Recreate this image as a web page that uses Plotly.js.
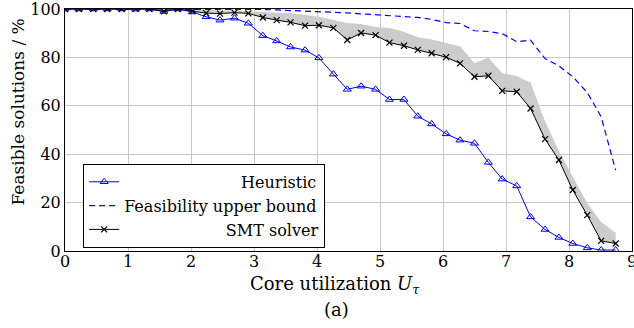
<!DOCTYPE html>
<html>
<head>
<meta charset="utf-8">
<script src="https://cdn.plot.ly/plotly-3.0.1.min.js"></script>
<style>
html,body{margin:0;padding:0;background:#fff;}
#chart{width:634px;height:328px;}
</style>
</head>
<body>
<div id="chart"></div>
<script>
const utilization = [0, 0.22, 0.45, 0.67, 0.9, 1.12, 1.34, 1.57, 1.79, 2.02, 2.24, 2.46, 2.69, 2.91, 3.14, 3.36, 3.58, 3.81, 4.03, 4.26, 4.48, 4.7, 4.93, 5.15, 5.38, 5.6, 5.82, 6.05, 6.27, 6.5, 6.72, 6.94, 7.17, 7.39, 7.62, 7.84, 8.06, 8.29, 8.51, 8.74];
const heuristic = [100, 100, 100, 100, 100, 100, 100, 99, 100, 98.8, 96.8, 95.4, 96.2, 94.1, 89, 86.8, 84.3, 83, 79.8, 73.1, 66.8, 68.1, 66.8, 62.6, 62.6, 55.7, 52.5, 48.4, 45.8, 44.5, 36.6, 29.7, 26.9, 14.1, 8.9, 5.6, 3.1, 1.3, 0.4, 0.4];
const upperBound = [100, 100, 100, 100, 100, 100, 100, 100, 100, 100, 100, 100, 100, 100, 99.8, 99.6, 99.4, 99.2, 99, 98.8, 98.4, 98, 97.6, 97.3, 97.1, 96.5, 95.7, 94.4, 94.0, 91.0, 90.7, 89.8, 86.5, 87.1, 79.5, 76.5, 72, 65.5, 55.5, 33.4];
const smt = [100, 100, 100, 100, 100, 100, 100, 99, 100, 99.1, 98.3, 98.1, 98.5, 98.2, 96.5, 95.4, 94.5, 93.1, 93.3, 92.2, 87.2, 90.1, 89.2, 86.1, 84.8, 83.1, 81.7, 80.1, 77.5, 72.0, 72.4, 66.2, 65.8, 58.9, 46.2, 37.6, 25.2, 14.8, 4.2, 3.1];
const smtBand = [100, 100, 100, 100, 100, 100, 100, 99.5, 100, 100, 99.6, 99.4, 99.3, 99.1, 98.8, 98.5, 98.2, 97.5, 96.8, 95.5, 94.2, 93.8, 92.6, 92.2, 90.6, 88.3, 87.4, 86.0, 84.6, 77.6, 80.0, 73.5, 72.3, 69.5, 53.6, 41.2, 30.5, 19.7, 12.0, 7.5];
const xTicks = [0, 1, 2, 3, 4, 5, 6, 7, 8, 9];
const yTicks = [0, 20, 40, 60, 80, 100];
const names = ['Heuristic', 'Feasibility upper bound', 'SMT solver'];

const pad = n => '\u00A0'.repeat(n);
const serif = 'DejaVu Serif';

const traces = [
  {x: utilization, y: smt, mode: 'lines', line: {width: 0, color: 'rgba(0,0,0,0)'}, showlegend: false, hoverinfo: 'skip'},
  {x: utilization, y: smtBand, mode: 'lines', line: {width: 0, color: 'rgba(0,0,0,0)'}, fill: 'tonexty', fillcolor: '#cccccc', showlegend: false, hoverinfo: 'skip'},
  {x: utilization, y: heuristic, name: pad(23) + names[0], mode: 'lines+markers',
   line: {color: '#0000ff', width: 1}, marker: {symbol: 'triangle-up-open', size: 7, color: '#0000ff', line: {width: 1, color: '#0000ff'}}},
  {x: utilization, y: upperBound, name: names[1], mode: 'lines',
   line: {color: '#0000ff', width: 1.2, dash: '6px,4px'}},
  {x: utilization, y: smt, name: pad(20) + names[2], mode: 'lines+markers',
   line: {color: '#000000', width: 1}, marker: {symbol: 'x-thin-open', size: 6, color: '#000000', line: {width: 1.2, color: '#000000'}}}
];

const layout = {
  width: 634, height: 328,
  margin: {l: 65, r: 2, t: 9, b: 77},
  paper_bgcolor: '#ffffff', plot_bgcolor: '#ffffff',
  font: {family: serif, size: 16, color: '#000'},
  showlegend: true,
  legend: {x: 0.032, y: 0.36, xanchor: 'left', yanchor: 'top', bgcolor: '#ffffff', bordercolor: '#000', borderwidth: 1,
           traceorder: 'normal', font: {family: serif, size: 16, color: '#000'}, tracegroupgap: 0},
  xaxis: {range: [0, 9], tickvals: xTicks, ticktext: xTicks.map(String), showgrid: true, gridcolor: '#c8c8c8', gridwidth: 1,
          showline: true, linecolor: '#000', linewidth: 1, mirror: true, zeroline: false, ticks: '',
          ticklabelstandoff: -4, ticklabeloverflow: 'allow',
          tickfont: {family: serif, size: 16, color: '#000'}},
  yaxis: {range: [0, 100], tickvals: yTicks, ticktext: yTicks.map(String), showgrid: true, gridcolor: '#c8c8c8', gridwidth: 1,
          showline: true, linecolor: '#000', linewidth: 1, mirror: true, zeroline: false, ticks: '',
          ticklabeloverflow: 'allow',
          tickfont: {family: serif, size: 16, color: '#000'}},
  annotations: [
    {text: 'Core utilization <i>U</i><sub><i>τ</i></sub>', xref: 'paper', yref: 'paper', x: (335 - 65) / 567, y: -(285 - 251) / 242,
     xanchor: 'center', yanchor: 'middle', showarrow: false, font: {family: serif, size: 18, color: '#000'}},
    {text: '(a)', xref: 'paper', yref: 'paper', x: (336 - 65) / 567, y: -(309 - 251) / 242,
     xanchor: 'center', yanchor: 'middle', showarrow: false, font: {family: serif, size: 18, color: '#000'}},
    {text: 'Feasible solutions / %', xref: 'paper', yref: 'paper', x: (18 - 65) / 567, y: (251 - 112.5) / 242,
     xanchor: 'center', yanchor: 'middle', textangle: -90, showarrow: false, font: {family: serif, size: 17, color: '#000'}}
  ]
};

Plotly.newPlot('chart', traces, layout, {displayModeBar: false, staticPlot: true});
</script>
</body>
</html>
